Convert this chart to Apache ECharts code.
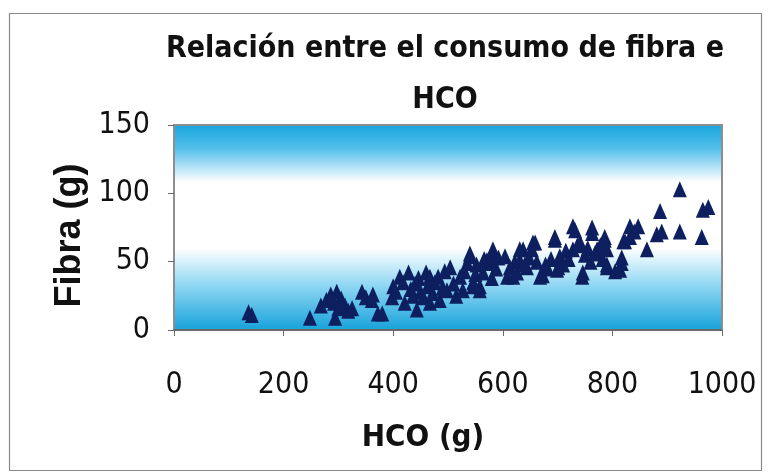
<!DOCTYPE html>
<html>
<head>
<meta charset="utf-8">
<script src="https://cdn.jsdelivr.net/npm/echarts@6/dist/echarts.min.js"></script>
<style>
  html, body { margin: 0; padding: 0; background: #ffffff; }
  #chart { width: 768px; height: 474px; }
</style>
</head>
<body>
<div id="chart"></div>
<script>
// Carbohydrate intake (HCO, g) per subject
const hcoGrams = [
  136, 142, 248, 268, 278, 286, 292, 297, 294, 300, 305, 312, 318, 325, 343, 350, 361, 363, 372,
  380, 398, 400, 405, 412, 418, 421, 428, 432, 436, 440, 443, 446, 450, 455, 460, 463, 467, 467, 472, 476, 482, 485, 490, 494, 498,
  504, 510, 515, 522, 527, 530, 535, 540, 540, 546, 546, 550, 552, 558, 558, 564, 566, 571, 577, 580, 582, 582, 588, 592,
  604, 608, 613, 619, 622, 626, 631, 631, 637, 640, 644, 648, 653, 655, 659, 662, 668, 673, 678, 682, 688, 695, 695, 699,
  701, 704, 710, 715, 720, 728, 728, 732, 736, 741, 745, 746, 750, 755, 760, 763, 763, 768, 772, 778, 782, 786, 786, 790, 790, 790,
  805, 814, 817, 817, 820, 823, 832, 832, 840, 847, 863, 881, 887, 890, 923, 923, 963, 965, 975
];
// Fibre intake (g) for the same subjects
const fibraGrams = [
  13, 11, 9, 18, 22, 26, 20, 28, 9, 16, 23, 18, 14, 16, 28, 24, 22, 26, 12,
  12, 24, 32, 28, 39, 35, 20, 42, 30, 25, 34, 15, 38, 28, 24, 42, 32, 39, 20, 27, 35, 39, 22, 31, 43, 29,
  46, 34, 25, 39, 29, 43, 49, 54, 56, 35, 32, 41, 48, 29, 32, 42, 52, 51, 49, 38, 56, 59, 45, 53,
  54, 39, 46, 39, 50, 42, 51, 59, 59, 48, 46, 53, 59, 64, 64, 50, 39, 40, 48, 45, 52, 66, 68, 44,
  46, 54, 48, 58, 52, 59, 76, 73, 62, 64, 39, 42, 55, 60, 50, 71, 75, 56, 59, 62, 52, 66, 68, 59, 46, 48,
  43, 44, 49, 53, 65, 65, 68, 76, 72, 76, 59, 70, 87, 72, 103, 72, 68, 88, 90
];
const xTicks = { min: 0, max: 1000, step: 200 };
const yTicks = { min: 0, max: 150, step: 50 };

const points = hcoGrams.map((h, i) => [h, fibraGrams[i]]);

const narrow = "'DejaVu Sans Condensed', 'Liberation Sans Narrow', 'Arial Narrow', 'Liberation Sans', sans-serif";
const wide = "'Liberation Sans', Arial, sans-serif";

const chart = echarts.init(document.getElementById('chart'), null, { renderer: 'canvas' });
chart.setOption({
  animation: false,
  backgroundColor: '#ffffff',
  title: {
    text: 'Relación entre el consumo de fibra e\nHCO',
    left: 440,
    top: 19,
    textAlign: 'center',
    textStyle: {
      fontFamily: narrow,
      fontWeight: 'bold',
      fontSize: 30,
      lineHeight: 51,
      color: '#111111'
    }
  },
  graphic: [{
    type: 'rect',
    shape: { x: 9.5, y: 13.5, width: 752, height: 457 },
    style: { fill: 'none', stroke: '#8a8a8a', lineWidth: 1.2 },
    silent: true,
    z: -1
  }],
  grid: {
    left: 174,
    right: 46,
    top: 125,
    bottom: 144,
    show: true,
    borderColor: '#8e8e8e',
    borderWidth: 2,
    backgroundColor: new echarts.graphic.LinearGradient(0, 0, 0, 1, [
      { offset: 0, color: '#16a4de' },
      { offset: 0.12, color: '#55c0eb' },
      { offset: 0.28, color: '#ffffff' },
      { offset: 0.6, color: '#ffffff' },
      { offset: 0.78, color: '#8fd7f3' },
      { offset: 1, color: '#14a1da' }
    ])
  },
  xAxis: {
    type: 'value',
    min: xTicks.min,
    max: xTicks.max,
    interval: xTicks.step,
    name: 'HCO (g)',
    nameLocation: 'middle',
    nameGap: 92,
    nameTextStyle: {
      fontFamily: narrow,
      fontWeight: 'bold',
      fontSize: 31,
      color: '#111111',
      padding: [0, 50, 0, 0]
    },
    axisLine: { show: true, lineStyle: { color: '#6a6a6a', width: 2 } },
    axisTick: { show: true, inside: false, length: 6, lineStyle: { color: '#6a6a6a', width: 1 } },
    axisLabel: {
      margin: 40,
      fontFamily: narrow,
      fontSize: 30,
      color: '#111111',
      formatter: (v) => String(v)
    },
    splitLine: { show: false }
  },
  yAxis: {
    type: 'value',
    min: yTicks.min,
    max: yTicks.max,
    interval: yTicks.step,
    name: 'Fibra (g)',
    nameLocation: 'middle',
    nameGap: 84,
    nameRotate: 90,
    nameTextStyle: {
      fontFamily: wide,
      fontWeight: 'bold',
      fontSize: 36,
      color: '#111111',
      padding: [0, 16, 0, 0]
    },
    axisLine: { show: true, lineStyle: { color: '#8e8e8e', width: 2 } },
    axisTick: { show: true, inside: false, length: 6, lineStyle: { color: '#6a6a6a', width: 1 } },
    axisLabel: {
      margin: 24,
      fontFamily: narrow,
      fontSize: 30,
      color: '#111111',
      formatter: (v) => String(v)
    },
    splitLine: { show: false }
  },
  series: [{
    type: 'scatter',
    data: points,
    symbol: 'triangle',
    symbolSize: [14, 16],
    itemStyle: { color: '#0d1f5f', opacity: 1 },
    z: 3
  }]
});
</script>
</body>
</html>
